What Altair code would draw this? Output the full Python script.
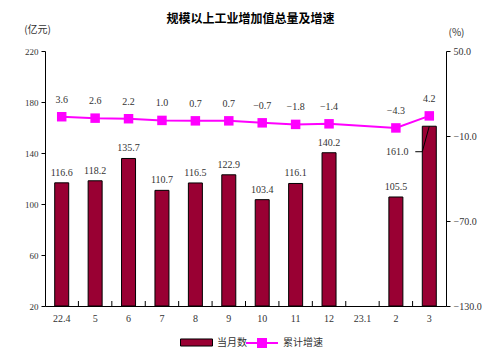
import altair as alt
import pandas as pd

months = ["22.4", "5", "6", "7", "8", "9", "10", "11", "12", "23.1", "2", "3"]
monthly = [116.6, 118.2, 135.7, 110.7, 116.5, 122.9, 103.4, 116.1, 140.2, None, 105.5, 161.0]
growth = [3.6, 2.6, 2.2, 1.0, 0.7, 0.7, -0.7, -1.8, -1.4, None, -4.3, 4.2]

left_ticks = [20, 60, 100, 140, 180, 220]
right_ticks = [50, -10, -70, -130]

df = pd.DataFrame({"month": months, "monthly": monthly, "growth": growth})
bdf = pd.DataFrame({"month": months[1:]})
leader = pd.DataFrame({"month": ["3", "3", "3"], "off": [-14, -7, 0], "v": [141, 141, 161]})

NUM = "Liberation Serif, Noto Sans CJK SC"
CJK = "Noto Sans CJK SC"
TXT = "#333333"
BAR = "#990033"
MAG = "#FF00FF"

xs = alt.X("month:N", sort=months,
           scale=alt.Scale(domain=months, paddingInner=0, paddingOuter=0),
           axis=alt.Axis(title=None, labelAngle=0, ticks=False, labelPadding=7,
                         labelFontSize=10, labelColor=TXT, labelFont=NUM,
                         domainColor="black", bandPosition=0.5, labelFlush=False,
                         labelAlign="center"))

yl_scale = alt.Scale(domain=[20, 220], zero=False, nice=False)
yl_axis = alt.Axis(values=left_ticks, title="(亿元)", titleAngle=0, titleX=-8, titleY=-22,
                   titleAlign="center", titleBaseline="middle", titleFontSize=10,
                   titleFontWeight="normal", titleColor=TXT, titleFont=CJK,
                   labelFontSize=9, labelColor=TXT, labelFont=NUM, tickSize=4,
                   labelPadding=3, domainColor="black", tickColor="black", grid=False)

base = alt.Chart(df)

bars = base.transform_filter("isValid(datum.monthly)").transform_calculate(
    s="'当月数'").mark_bar(size=14, stroke="black", strokeWidth=1).encode(
    x=xs,
    y=alt.Y("monthly:Q", scale=yl_scale, axis=yl_axis),
    y2=alt.datum(20),
    fill=alt.Fill("s:N", scale=alt.Scale(domain=["当月数"], range=[BAR]),
                  legend=alt.Legend(title=None, orient="none", legendX=135, legendY=275,
                                    symbolType="M-1,-0.22H1V0.22H-1Z", symbolSize=1024,
                                    symbolStrokeColor="black", symbolStrokeWidth=1,
                                    labelFont=CJK, labelFontSize=10, labelColor=TXT,
                                    padding=0, labelOffset=4)))

ticks = alt.Chart(bdf).mark_rule(color="black", strokeWidth=1).encode(
    x=alt.X("month:N", sort=months, bandPosition=0),
    y=alt.value(255), y2=alt.value(250))

bar_labels = base.transform_filter("isValid(datum.monthly) && datum.month != '3'").mark_text(
    dy=-10, font=NUM, fontSize=10, color=TXT).encode(
    x=alt.X("month:N", sort=months),
    y=alt.Y("monthly:Q"),
    text=alt.Text("monthly:Q", format=".1f"))

last_label = base.transform_filter("datum.month == '3'").mark_text(
    dy=26, dx=-32, font=NUM, fontSize=10, color=TXT).encode(
    x=alt.X("month:N", sort=months),
    y=alt.Y("monthly:Q"),
    text=alt.Text("monthly:Q", format=".1f"))

lead = alt.Chart(leader).mark_line(color="black", strokeWidth=1).encode(
    x=alt.X("month:N", sort=months),
    xOffset=alt.XOffset("off:Q", scale=alt.Scale(domain=[-16.71, 16.71], range=[0, 33.42])),
    y=alt.Y("v:Q"),
    order="off:Q")

left = alt.layer(bars, ticks, bar_labels, last_label, lead)

yr_scale = alt.Scale(domain=[-130, 50], zero=False, nice=False)
yr_axis = alt.Axis(orient="right", values=right_ticks, format=".1f", title="(%)",
                   titleAngle=0, titleX=10, titleY=-19, titleAlign="center",
                   titleBaseline="middle", titleFontSize=10, titleFontWeight="normal",
                   titleColor=TXT, titleFont=CJK, labelFontSize=10, labelColor=TXT,
                   labelFont=NUM, tickSize=4, labelPadding=3, domainColor="black",
                   tickColor="black", grid=False)

gdf = base.transform_filter("isValid(datum.growth)")

line = gdf.transform_calculate(s2="'累计增速'").mark_line(strokeWidth=2).encode(
    x=alt.X("month:N", sort=months),
    y=alt.Y("growth:Q", scale=yr_scale, axis=yr_axis),
    stroke=alt.Stroke("s2:N", scale=alt.Scale(domain=["累计增速"], range=[MAG]),
                      legend=alt.Legend(title=None, orient="none", legendX=200, legendY=275,
                                        symbolType="M-1,0H1M-0.25,-0.25H0.25V0.25H-0.25Z",
                                        symbolSize=1024, symbolFillColor=MAG,
                                        symbolStrokeWidth=2,
                                        labelFont=CJK, labelFontSize=10, labelColor=TXT,
                                        padding=0, labelOffset=4)))

points = gdf.mark_point(shape="square", filled=True, size=90, color=MAG, opacity=1).encode(
    x=alt.X("month:N", sort=months),
    y=alt.Y("growth:Q"))

line_labels = gdf.mark_text(dy=-17, font=NUM, fontSize=10, color=TXT).encode(
    x=alt.X("month:N", sort=months),
    y=alt.Y("growth:Q"),
    text=alt.Text("growth:Q", format=".1f"))

right = alt.layer(line, points, line_labels)

chart = alt.layer(left, right).resolve_scale(y="independent").properties(
    width=401, height=255,
    autosize=alt.AutoSizeParams(type="none"),
    padding={"left": 37, "top": 43, "right": 46, "bottom": 45},
    title=alt.TitleParams("规模以上工业增加值总量及增速", font=CJK, fontSize=12,
                          fontWeight="bold", color="black", anchor="middle", dx=5, dy=4,
                          offset=2),
).configure_view(stroke=None).configure_axis(grid=False)

chart.save("out.html", embed_options={"renderer": "svg", "actions": False})
